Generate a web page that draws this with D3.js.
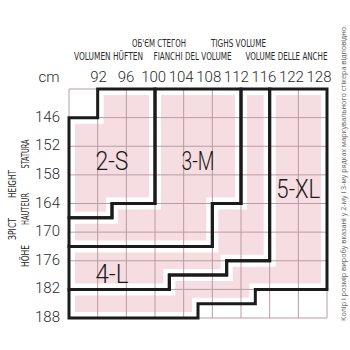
<!DOCTYPE html>
<html>
<head>
<meta charset="utf-8">
<title>Tights size chart</title>
<script src="https://d3js.org/d3.v7.min.js"></script>
<style>
  body { margin: 0; background: #fff; }
</style>
</head>
<body>
<div id="chart"></div>
<script>
// hip girth columns and height rows, cm
const hips = [92, 96, 100, 104, 108, 112, 116, 122, 128];
const heights = [146, 152, 158, 164, 170, 176, 182, 188];
const sizeNames = ["2-S", "3-M", "4-L", "5-XL"];

// outline of each size, as [column boundary, row boundary] in grid steps
const outlineS = [[0,1],[1,1],[1,0],[3,0],[3,4],[1.5,4],[1.5,4.5],[0,4.5]];
const outlineM = [[3,0],[6,0],[6,4],[5,4],[5,5.5],[0,5.5],[0,4.5],[1.5,4.5],[1.5,4],[3,4]];
const outlineL = [[6,0],[7,0],[7,6],[5.5,6],[5.5,6.5],[3.5,6.5],[3.5,7],[0,7],[0,5.5],[5,5.5],[5,4],[6,4]];
const outlineXL = [[7,0],[9,0],[9,7],[6.5,7],[6.5,7.5],[4.5,7.5],[4.5,8],[0,8],[0,7],[3.5,7],[3.5,6.5],[5.5,6.5],[5.5,6],[7,6]];

const hipTitleTop = ["ОБ'ЄМ СТЕГОН", "TIGHS VOLUME"];
const hipTitleBottom = ["VOLUMEN HÜFTEN", "FIANCHI DEL VOLUME", "VOLUME DELLE ANCHE"];
const heightTitleLeft = ["ЗРІСТ", "HEIGHT"];
const heightTitleRight = ["HÖHE", "HAUTEUR", "STATURA"];
const note = "Колір і розмір виробу вказані у 2-му і 3-му рядках маркувального стікера відповідно.";

const W = 350, H = 350;
const svg = d3.select("#chart").append("svg")
    .attr("width", W).attr("height", H);

const x = d3.scaleLinear().domain([0, hips.length]).range([69, 327]);
const y = d3.scaleLinear().domain([0, heights.length]).range([89, 318]);
// column labels drift a little left of the grid lines in the original
const xLab = d3.scalePoint().domain(hips).range([98.5, 319]);

const outlines = [outlineS, outlineM, outlineL, outlineXL];
const line = d3.line().x(d => x(d[0])).y(d => y(d[1])).curve(d3.curveLinearClosed);

// pink fill with a white inner margin
const defs = svg.append("defs");
outlines.forEach((o, i) => {
  defs.append("clipPath").attr("id", "clip" + i)
    .append("path").attr("d", line(o));
});
svg.append("g").selectAll("path")
  .data(outlines)
  .join("path")
    .attr("d", d => line(d))
    .attr("clip-path", (d, i) => `url(#clip${i})`)
    .attr("fill", "#f6dde2")
    .attr("stroke", "#fff")
    .attr("stroke-width", 12)
    .attr("stroke-linejoin", "miter");

// thin grid
const grid = svg.append("g").attr("stroke", "#b89ca3").attr("stroke-width", 1);
grid.selectAll(".v").data(d3.range(hips.length + 1)).join("line")
    .attr("x1", d => x(d)).attr("x2", d => x(d))
    .attr("y1", y(0)).attr("y2", y(heights.length));
grid.selectAll(".h").data(d3.range(heights.length + 1)).join("line")
    .attr("y1", d => y(d)).attr("y2", d => y(d))
    .attr("x1", x(0)).attr("x2", x(hips.length));

// size outlines
svg.append("g").selectAll("path")
  .data(outlines)
  .join("path")
    .attr("d", d => line(d))
    .attr("fill", "none")
    .attr("stroke", "#1b1b1b")
    .attr("stroke-width", 3)
    .attr("stroke-linejoin", "miter")
    .attr("stroke-linecap", "square");

// size names
const namePos = [[1.5, 2.5], [4.5, 2.5], [1.5, 6.45], [8, 3.5]];
svg.append("g").selectAll("text")
  .data(sizeNames)
  .join("text")
    .attr("x", (d, i) => x(namePos[i][0]))
    .attr("y", (d, i) => y(namePos[i][1]))
    .attr("text-anchor", "middle")
    .attr("dominant-baseline", "central")
    .attr("font-family", "Roboto, sans-serif")
    .attr("font-weight", 300)
    .attr("font-size", 26)
    .attr("fill", "#1b1b1b")
    .attr("textLength", d => d.length * 11)
    .attr("lengthAdjust", "spacingAndGlyphs")
    .text(d => d);

// axis numbers
const numFont = "Roboto, sans-serif";
svg.append("text")
    .attr("x", 49).attr("y", 82)
    .attr("text-anchor", "middle")
    .attr("font-family", numFont).attr("font-weight", 300)
    .attr("font-size", 15).attr("fill", "#2a2a2a")
    .text("cm");

svg.append("g").selectAll("text")
  .data(hips)
  .join("text")
    .attr("x", d => xLab(d)).attr("y", 82)
    .attr("text-anchor", "middle")
    .attr("font-family", numFont).attr("font-weight", 300)
    .attr("font-size", 15).attr("fill", "#2a2a2a")
    .text(d => d);

svg.append("g").selectAll("text")
  .data(heights)
  .join("text")
    .attr("x", 60).attr("y", (d, i) => y(i + 1) - 1)
    .attr("text-anchor", "end")
    .attr("dominant-baseline", "central")
    .attr("font-family", numFont).attr("font-weight", 300)
    .attr("font-size", 15).attr("fill", "#2a2a2a")
    .text(d => d);

// titles
const titleFont = "'Liberation Sans Narrow', 'DejaVu Sans Condensed', sans-serif";
function title(txt, cx, cy, len, rotate) {
  svg.append("text")
    .attr("transform", `translate(${cx},${cy})` + (rotate ? " rotate(-90)" : ""))
    .attr("text-anchor", "middle")
    .attr("dominant-baseline", "central")
    .attr("font-family", titleFont)
    .attr("font-size", 10)
    .attr("fill", "#2a2a2a")
    .attr("textLength", len)
    .attr("lengthAdjust", "spacingAndGlyphs")
    .text(txt);
}
title(hipTitleTop[0], 159, 43, 54);
title(hipTitleTop[1], 238.5, 43, 55);
title(hipTitleBottom[0], 108.5, 56, 69);
title(hipTitleBottom[1], 192.5, 56, 78);
title(hipTitleBottom[2], 286.5, 56, 82);

title(heightTitleLeft[0], 12, 229, 22, true);
title(heightTitleLeft[1], 12, 184, 28, true);
title(heightTitleRight[0], 25, 256, 22, true);
title(heightTitleRight[1], 25, 209, 32, true);
title(heightTitleRight[2], 25, 154, 29, true);

// side note
svg.append("text")
    .attr("transform", "translate(343,173) rotate(-90)")
    .attr("text-anchor", "middle")
    .attr("dominant-baseline", "central")
    .attr("font-family", "'Open Sans', sans-serif")
    .attr("font-size", 7)
    .attr("fill", "#666")
    .attr("textLength", 296)
    .attr("lengthAdjust", "spacingAndGlyphs")
    .text(note);
</script>
</body>
</html>
